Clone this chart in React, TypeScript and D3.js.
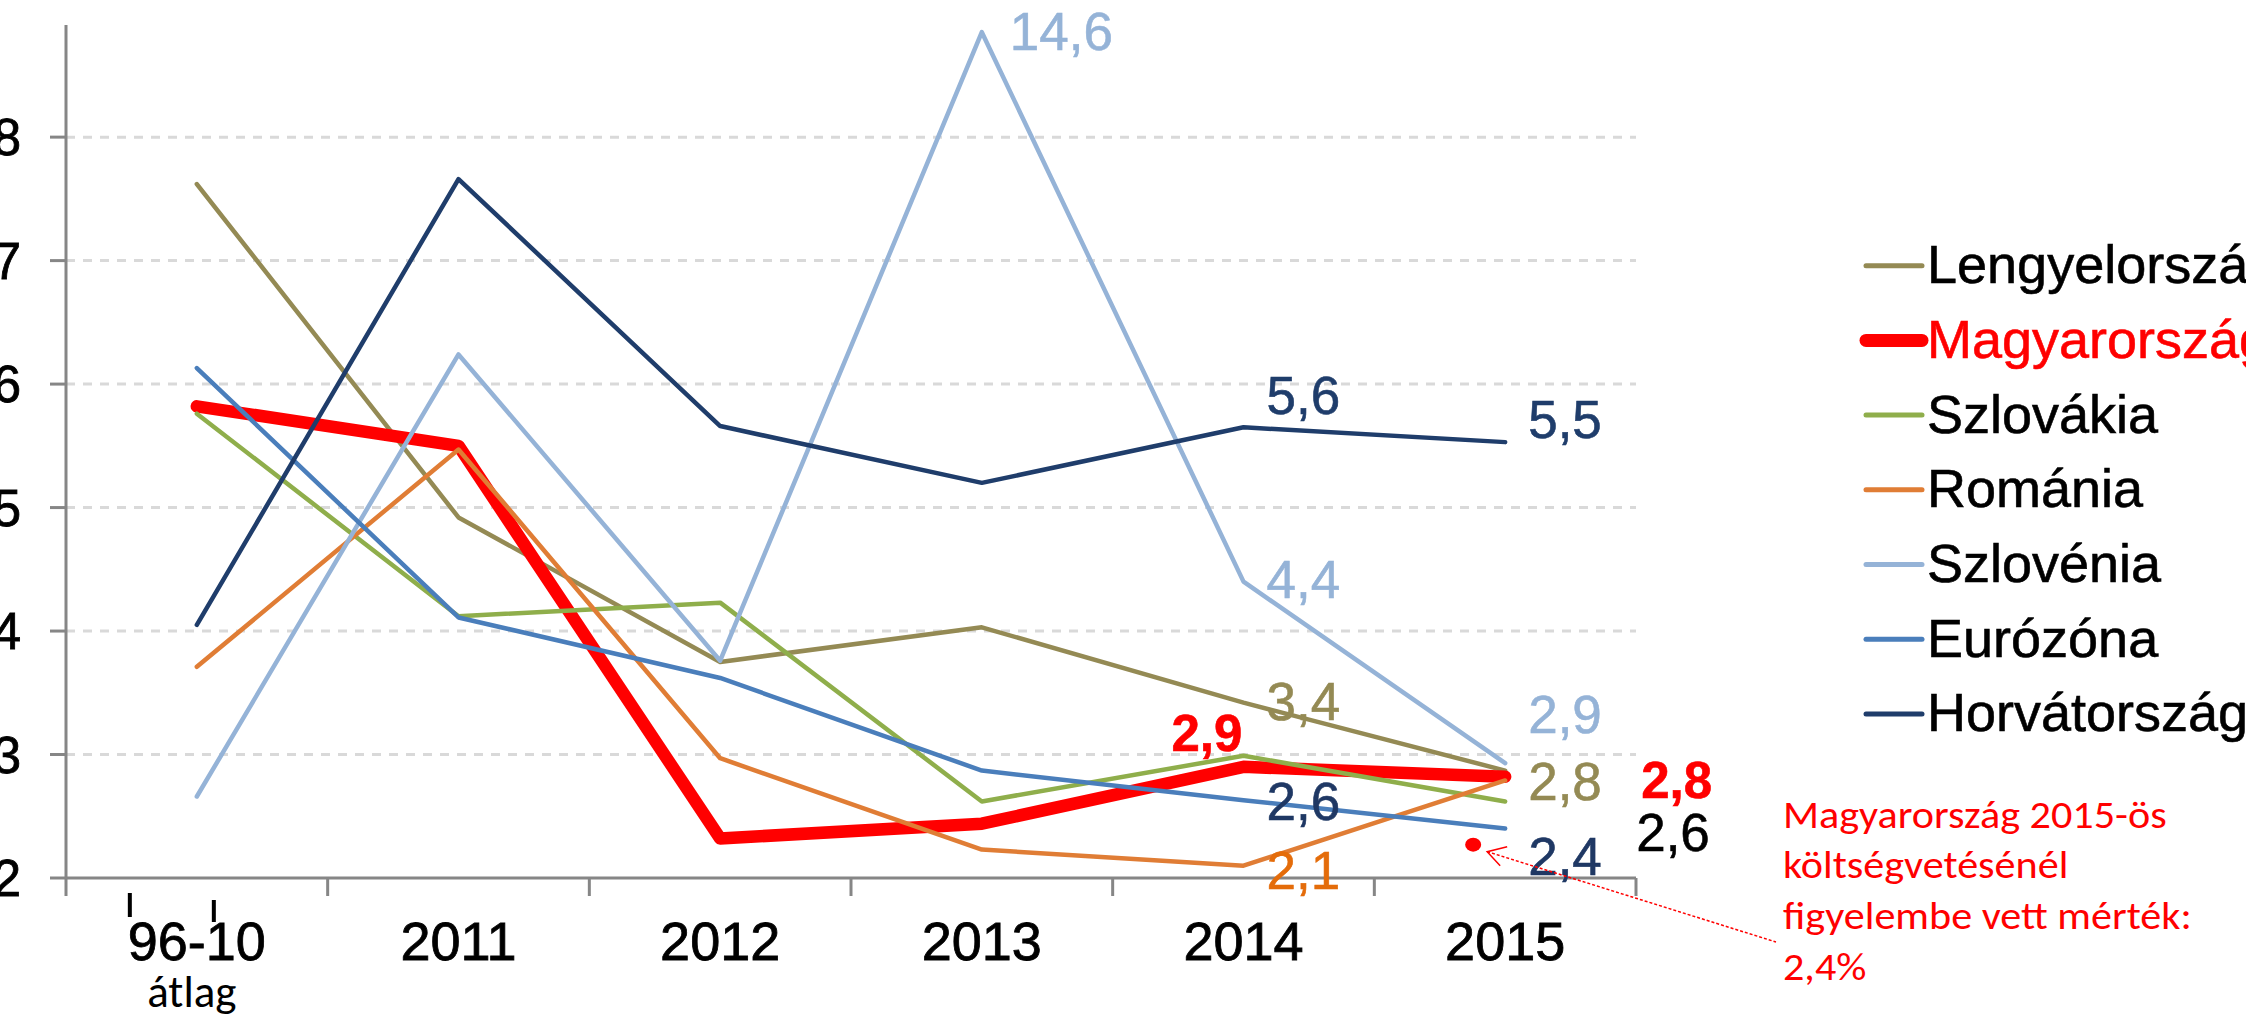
import React from "react";
import * as d3 from "d3";

// ---------- data ----------
const categories = ["96-10", "2011", "2012", "2013", "2014", "2015"];
const seriesNames = [
  "Lengyelország",
  "Magyarország",
  "Szlovákia",
  "Románia",
  "Szlovénia",
  "Eurózóna",
  "Horvátország",
];
const lengyelorszag = [7.62, 4.92, 3.75, 4.03, 3.42, 2.87];
const magyarorszag = [5.82, 5.5, 2.32, 2.44, 2.9, 2.82];
const szlovakia = [5.76, 4.12, 4.23, 2.62, 2.99, 2.62];
const romania = [3.71, 5.47, 2.97, 2.23, 2.1, 2.79];
const szlovenia = [2.66, 6.24, 3.76, 14.6, 4.4, 2.93];
const eurozona = [6.13, 4.11, 3.62, 2.87, 2.63, 2.4];
const horvatorszag = [4.05, 7.66, 5.66, 5.2, 5.65, 5.53];
const yTickValues = [2, 3, 4, 5, 6, 7, 8];
const budgetValue = 2.27; // marker: Magyarország 2015 budget assumption
const annotationLines = [
  "Magyarország 2015-ös",
  "költségvetésénél",
  "figyelembe vett mérték:",
  "2,4%",
];
// data labels: series index, category index, text
const dataLabels = [
  { s: 4, i: 3, text: "14,6" },
  { s: 6, i: 4, text: "5,6" },
  { s: 6, i: 5, text: "5,5" },
  { s: 4, i: 4, text: "4,4" },
  { s: 0, i: 4, text: "3,4" },
  { s: 1, i: 4, text: "2,9" },
  { s: 5, i: 4, text: "2,6" },
  { s: 3, i: 4, text: "2,1" },
  { s: 4, i: 5, text: "2,9" },
  { s: 0, i: 5, text: "2,8" },
  { s: 5, i: 5, text: "2,4" },
  { s: 1, i: 5, text: "2,8" },
  { s: 2, i: 5, text: "2,6" },
];

const seriesValues = [
  lengyelorszag,
  magyarorszag,
  szlovakia,
  romania,
  szlovenia,
  eurozona,
  horvatorszag,
];

// ---------- styles / layout ----------
const seriesColors = [
  "#948A54",
  "#FF0000",
  "#8FAE4B",
  "#E07D35",
  "#95B3D7",
  "#4A7EBB",
  "#1F3D6B",
];
const seriesWidths = [4.5, 12.5, 4.5, 4.5, 4.5, 4.5, 4.5];
const labelLayout = [
  { dx: 28, dy: 18, color: "#95B3D7", bold: false },
  { dx: 23, dy: -13, color: "#1F3D6B", bold: false },
  { dx: 23, dy: -4, color: "#1F3D6B", bold: false },
  { dx: 23, dy: 16, color: "#95B3D7", bold: false },
  { dx: 23, dy: 17, color: "#948A54", bold: false },
  { dx: -72, dy: -16, color: "#FF0000", bold: true },
  { dx: 23, dy: 20, color: "#1F3864", bold: false },
  { dx: 23, dy: 23, color: "#E46C0A", bold: false },
  { dx: 23, dy: -30, color: "#95B3D7", bold: false },
  { dx: 23, dy: 29, color: "#948A54", bold: false },
  { dx: 23, dy: 46, color: "#1F3864", bold: false },
  { dx: 136, dy: 21, color: "#FF0000", bold: true },
  { dx: 131, dy: 50, color: "#000000", bold: false },
];

const W = 2246;
const H = 1014;
const plotLeft = 66;
const plotRight = 1636;
const axisMax = 8.9;
const displayCap = 8.85;
const FONT = "'Liberation Sans', Arial, sans-serif";
const NOTE_FONT = "Carlito, Calibri, 'Noto Sans', sans-serif";

export default function App() {
  const x = d3
    .scaleBand<string>()
    .domain(categories)
    .range([plotLeft, plotRight])
    .padding(0);
  const cx = (i: number) => (x(categories[i]) as number) + x.bandwidth() / 2;
  const y = d3.scaleLinear().domain([2, axisMax]).range([878, 26]);
  const yOf = (v: number) => y(Math.min(v, displayCap));

  const line = d3
    .line<number>()
    .x((_, i) => cx(i))
    .y((v) => yOf(v));

  const boundaries = categories.map((c) => x(c) as number).concat([plotRight]);

  const legendX1 = 1866;
  const legendX2 = 1922;
  const legendTop = 265.7;
  const legendStep = 74.7;

  const dotX = cx(5) - 32;
  const dotY = y(budgetValue);
  const tipX = dotX + 14;
  const tipY = dotY + 7;
  const noteX = 1783;
  const noteY0 = 827.7;
  const noteStep = 50.8;

  return (
    <svg
      width={W}
      height={H}
      style={{ position: "absolute", left: 0, top: 0, background: "#fff" }}
      xmlns="http://www.w3.org/2000/svg"
    >
      <rect x={0} y={0} width={W} height={H} fill="#fff" />
      {/* gridlines */}
      {yTickValues
        .filter((t) => t > 2)
        .map((t) => (
          <line
            key={"g" + t}
            x1={plotLeft}
            x2={plotRight}
            y1={y(t)}
            y2={y(t)}
            stroke="#D9D9D9"
            strokeWidth={3}
            strokeDasharray="9 8"
          />
        ))}
      {/* y axis */}
      <line x1={plotLeft} x2={plotLeft} y1={y(axisMax) - 1} y2={y(2) + 18} stroke="#868686" strokeWidth={3} />
      {yTickValues.map((t) => (
        <g key={"yt" + t}>
          <line x1={plotLeft - 16} x2={plotLeft} y1={y(t)} y2={y(t)} stroke="#868686" strokeWidth={3} />
          <text
            x={21}
            y={y(t) + 18}
            textAnchor="end"
            fontFamily={FONT}
            fontSize={51}
            fill="#000"
            stroke="#000"
            strokeWidth={0.8}
          >
            {t}
          </text>
        </g>
      ))}
      {/* x axis */}
      <line x1={plotLeft} x2={plotRight} y1={y(2)} y2={y(2)} stroke="#868686" strokeWidth={3} />
      {boundaries.slice(1).map((b, k) => (
        <line key={"xt" + k} x1={b} x2={b} y1={y(2)} y2={y(2) + 18} stroke="#868686" strokeWidth={3} />
      ))}
      {categories.map((c, i) => (
        <text
          key={"xl" + c}
          x={cx(i)}
          y={960}
          textAnchor="middle"
          fontFamily={FONT}
          fontSize={54}
          fill="#000"
          stroke="#000"
          strokeWidth={0.8}
        >
          {c}
        </text>
      ))}
      {/* apostrophe marks of the first label */}
      <line x1={cx(0) - 67} x2={cx(0) - 67} y1={893} y2={917} stroke="#000" strokeWidth={4} />
      <line x1={cx(0) + 17} x2={cx(0) + 17} y1={900} y2={922} stroke="#000" strokeWidth={4} />
      <text
        x={cx(0) - 5}
        y={1007}
        textAnchor="middle"
        fontFamily={NOTE_FONT}
        fontSize={45}
        fill="#000"
      >
        átlag
      </text>

      {/* series lines */}
      {seriesValues.map((vals, s) => (
        <path
          key={"s" + s}
          d={line(vals) || ""}
          fill="none"
          stroke={seriesColors[s]}
          strokeWidth={seriesWidths[s]}
          strokeLinejoin="round"
          strokeLinecap="round"
        />
      ))}

      {/* data labels */}
      {dataLabels.map((l, k) => {
        const lay = labelLayout[k];
        return (
          <text
            key={"dl" + k}
            x={cx(l.i) + lay.dx}
            y={yOf(seriesValues[l.s][l.i]) + lay.dy}
            fontFamily={FONT}
            fontSize={lay.bold ? 51 : 53}
            fontWeight={lay.bold ? "bold" : "normal"}
            fill={lay.color}
            stroke={lay.color}
            strokeWidth={0.6}
          >
            {l.text}
          </text>
        );
      })}

      {/* budget marker and annotation */}
      <ellipse cx={dotX} cy={dotY} rx={8} ry={7} fill="#FF0000" />
      <line
        x1={tipX}
        y1={tipY}
        x2={1776}
        y2={942}
        stroke="#FF0000"
        strokeWidth={1.5}
        strokeDasharray="3 2"
      />
      <polyline
        points={`${tipX + 20},${tipY - 5} ${tipX},${tipY} ${tipX + 13},${tipY + 14}`}
        fill="none"
        stroke="#FF0000"
        strokeWidth={1.5}
      />
      <g transform={`translate(${noteX},0) scale(1.11,1)`}>
        {annotationLines.map((t, k) => (
          <text
            key={"an" + k}
            x={0}
            y={noteY0 + k * noteStep}
            fontFamily={NOTE_FONT}
            fontSize={38}
            fill="#FF0000"
          >
            {t}
          </text>
        ))}
      </g>

      {/* legend */}
      {seriesNames.map((n, s) => {
        const ly = legendTop + s * legendStep;
        return (
          <g key={"lg" + s}>
            <line
              x1={legendX1}
              x2={legendX2}
              y1={ly}
              y2={ly}
              stroke={seriesColors[s]}
              strokeWidth={s === 1 ? 13 : 5}
              strokeLinecap="round"
            />
            <text
              x={1927}
              y={ly + 17.5}
              fontFamily={FONT}
              fontSize={54}
              fill={s === 1 ? "#FF0000" : "#000"}
              stroke={s === 1 ? "#FF0000" : "#000"}
              strokeWidth={0.6}
            >
              {n}
            </text>
          </g>
        );
      })}
    </svg>
  );
}
